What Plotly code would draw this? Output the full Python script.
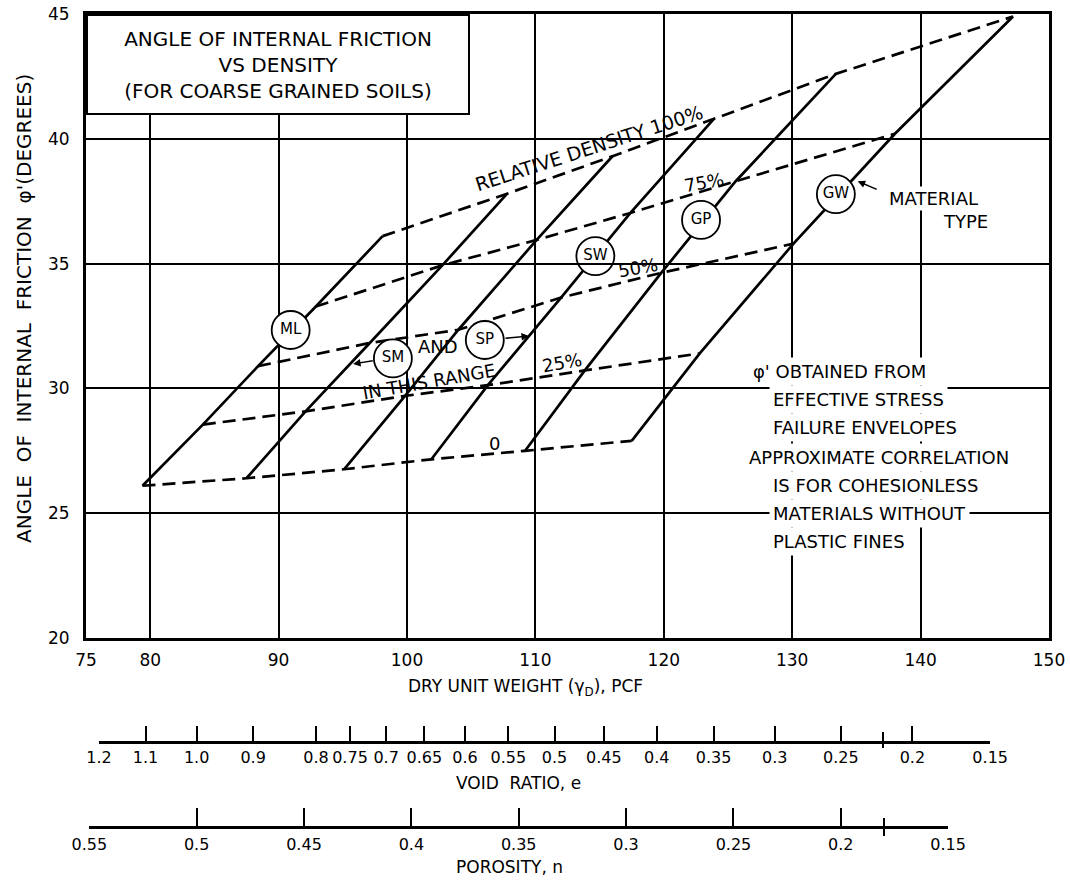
import plotly.graph_objects as go

# ---------------- data ----------------
materials = ["ML", "SM", "SP", "SW", "GP", "GW"]
rd_names = ["0", "25%", "50%", "75%", "100%"]

# intersections of each relative-density curve with the six material lines
rd0_x = [79.4, 87.5, 95.1, 101.9, 109.2, 117.5]
rd0_y = [26.1, 26.4, 26.76, 27.16, 27.5, 27.9]
rd25_x = [84.1, 92.1, 99.85, 106.3, 113.85, 122.8]
rd25_y = [28.55, 29.08, 29.7, 30.13, 30.72, 31.4]
rd50_x = [88.4, 97.1, 104.0, 112.0, 119.8, 130.1]
rd50_y = [30.89, 31.82, 32.35, 33.64, 34.63, 35.8]
rd75_x = [92.9, 102.75, 110.1, 117.4, 125.6, 138.0]
rd75_y = [33.28, 34.93, 35.95, 37.03, 38.3, 40.2]
rd100_x = [98.1, 107.8, 116.0, 123.9, 133.4, 147.2]
rd100_y = [36.1, 37.8, 39.3, 40.8, 42.6, 44.9]

# material-type circles
circle_names = ["ML", "SM", "SP", "SW", "GP", "GW"]
circle_x = [90.94, 98.9, 106.06, 114.67, 122.9, 133.4]
circle_y = [32.34, 31.2, 31.94, 35.3, 36.75, 37.78]

x_ticks = [75, 80, 90, 100, 110, 120, 130, 140, 150]
y_ticks = [20, 25, 30, 35, 40, 45]

void_ticks = [1.2, 1.1, 1.0, 0.9, 0.8, 0.75, 0.7, 0.65, 0.6, 0.55, 0.5, 0.45,
              0.4, 0.35, 0.3, 0.25, 0.2, 0.15]
void_labels = ["1.2", "1.1", "1.0", "0.9", "0.8", "0.75", "0.7", "0.65", "0.6",
               "0.55", "0.5", "0.45", "0.4", "0.35", "0.3", "0.25", "0.2", "0.15"]
void_mark = [0.22]
poro_ticks = [0.55, 0.5, 0.45, 0.4, 0.35, 0.3, 0.25, 0.2, 0.15]
poro_labels = ["0.55", "0.5", "0.45", "0.4", "0.35", "0.3", "0.25", "0.2", "0.15"]
poro_mark = [0.18]

GS = 2.68      # specific gravity used by the scale
GW_UNIT = 62.4  # unit weight of water, pcf

note_lines = ["\u03c6' OBTAINED FROM", "EFFECTIVE STRESS", "FAILURE ENVELOPES",
              "APPROXIMATE CORRELATION", "IS FOR COHESIONLESS",
              "MATERIALS WITHOUT", "PLASTIC FINES"]
note_x = [126.6, 128.2, 128.2, 126.3, 128.2, 128.2, 128.2]
note_y = [30.66, 29.54, 28.42, 27.24, 26.12, 25.0, 23.88]

# ---------------- helpers ----------------
OFF = 0                       # body margin removed by post_script below
W, H = 1070 - OFF, 881 - OFF
ML_, MR, MT, MB = 86 - OFF, 21, 14 - OFF, 54
PH = H - MT - MB
PW = W - ML_ - MR
XMIN, XMAX = 75, 150
FONT = "DejaVu Sans"


def fy(p):
    # page pixel row -> paper fraction
    return (H - MB - (p - OFF)) / PH


def fx(p):
    return ((p - OFF) - ML_) / PW


def g_from_e(e):
    return GS * GW_UNIT / (1 + e)


def g_from_n(n):
    return GS * GW_UNIT * (1 - n)


def dom(g):
    return (g - XMIN) / (XMAX - XMIN)


rd_x = [rd0_x, rd25_x, rd50_x, rd75_x, rd100_x]
rd_y = [rd0_y, rd25_y, rd50_y, rd75_y, rd100_y]

fig = go.Figure()

# relative density curves (dashed)
for k in range(len(rd_x)):
    fig.add_trace(go.Scatter(x=rd_x[k], y=rd_y[k], mode="lines", name=rd_names[k],
                             line=dict(color="black", width=2.7, dash="13px,7px"),
                             showlegend=False, hoverinfo="skip"))

# material lines (solid)
for i in range(len(materials)):
    fig.add_trace(go.Scatter(x=[rd_x[k][i] for k in range(len(rd_x))],
                             y=[rd_y[k][i] for k in range(len(rd_y))],
                             mode="lines", name=materials[i],
                             line=dict(color="black", width=2.7),
                             showlegend=False, hoverinfo="skip"))

# material circles
fig.add_trace(go.Scatter(x=circle_x, y=circle_y, mode="markers+text", text=circle_names,
                         textposition="middle center",
                         textfont=dict(family=FONT, size=15, color="black"),
                         marker=dict(size=38, color="white", line=dict(color="black", width=1.8)),
                         showlegend=False, hoverinfo="skip"))

# void ratio / porosity scales
ev = [g_from_e(v) for v in void_ticks]
nv = [g_from_n(v) for v in poro_ticks]
e_dom = [dom(ev[0]), dom(ev[-1])]
n_dom = [dom(nv[0]), dom(nv[-1])]
for ax in ["x2", "x4"]:
    fig.add_trace(go.Scatter(x=[ev[0], ev[-1]], y=[20, 20], xaxis=ax, yaxis="y",
                             mode="lines", opacity=0, showlegend=False, hoverinfo="skip"))
for ax in ["x3", "x5"]:
    fig.add_trace(go.Scatter(x=[nv[0], nv[-1]], y=[20, 20], xaxis=ax, yaxis="y",
                             mode="lines", opacity=0, showlegend=False, hoverinfo="skip"))

C = dict(xanchor="center", yanchor="middle")
ann = []
# title box
ann.append(dict(text="ANGLE OF INTERNAL FRICTION<br>VS DENSITY<br>(FOR COARSE GRAINED SOILS)",
                xref="paper", yref="paper", x=0, y=1, xanchor="left", yanchor="top",
                showarrow=False, width=380, height=97, align="center", valign="middle",
                bgcolor="white", bordercolor="black", borderwidth=2, borderpad=0,
                font=dict(family=FONT, size=20, color="black")))
# axis titles
ann.append(dict(text="ANGLE  OF  INTERNAL  FRICTION  \u03c6'(DEGREES)", xref="paper", yref="paper",
                x=fx(24), y=fy(309), textangle=-90, showarrow=False, **C,
                font=dict(family=FONT, size=20, color="black")))
ann.append(dict(text="DRY UNIT WEIGHT (\u03b3<sub>D</sub>), PCF", xref="paper", yref="paper",
                x=fx(525), y=fy(687), showarrow=False, **C,
                font=dict(family=FONT, size=17, color="black")))
ann.append(dict(text="VOID  RATIO, e", xref="paper", yref="paper",
                x=fx(518), y=fy(783), showarrow=False, **C,
                font=dict(family=FONT, size=17, color="black")))
ann.append(dict(text="POROSITY, n", xref="paper", yref="paper",
                x=fx(509), y=fy(867), showarrow=False, **C,
                font=dict(family=FONT, size=17, color="black")))

# curve labels
lab = dict(showarrow=False, xref="x", yref="y", font=dict(family=FONT, size=18, color="black"), **C)
ann.append(dict(text="RELATIVE DENSITY 100%", x=114.2, y=39.62, textangle=-18,
                showarrow=False, xref="x", yref="y", xanchor="center", yanchor="middle",
                font=dict(family=FONT, size=19, color="black")))
ann.append(dict(text="75%", x=123.1, y=38.26, textangle=-10, **lab))
ann.append(dict(text="50%", x=118.0, y=34.84, textangle=-10, **lab))
ann.append(dict(text="25%", x=112.1, y=31.05, textangle=-10, **lab))
ann.append(dict(text="0", x=106.8, y=27.8, **lab))
ann.append(dict(text="AND", x=102.4, y=31.67, **lab))
ann.append(dict(text="IN THIS RANGE", x=101.7, y=30.27, textangle=-10, **lab))

# material type label
ann.append(dict(text="MATERIAL", x=141.0, y=37.59, bgcolor="white", borderpad=1, **lab))
ann.append(dict(text="TYPE", x=143.5, y=36.7, bgcolor="white", borderpad=1, **lab))

# arrows
arr = dict(text="", showarrow=True, arrowhead=2, arrowsize=1, arrowwidth=1.5,
           arrowcolor="black", xref="x", yref="y", axref="x", ayref="y")
ann.append(dict(x=95.8, y=30.98, ax=97.45, ay=31.12, **arr))
ann.append(dict(x=109.5, y=32.1, ax=107.55, ay=32.0, **arr))
ann.append(dict(x=135.1, y=38.3, ax=136.7, ay=37.95, **arr))

# note text
for t, x, y in zip(note_lines, note_x, note_y):
    ann.append(dict(text=t, x=x, y=y, xanchor="left", yanchor="middle", showarrow=False,
                    xref="x", yref="y", bgcolor="white", borderpad=3,
                    font=dict(family=FONT, size=18, color="black")))

axis_common = dict(showline=True, linecolor="black", zeroline=False, color="black",
                   automargin=False, ticklabeloverflow="allow")

fig.update_layout(
    width=W, height=H,
    margin=dict(l=ML_, r=MR, t=MT, b=MB, autoexpand=False),
    paper_bgcolor="white", plot_bgcolor="rgba(0,0,0,0)",
    font=dict(family=FONT, color="black"),
    showlegend=False,
    hovermode=False,
    annotations=ann,
    xaxis=dict(domain=[0, 1], range=[XMIN, XMAX], anchor="y", tickmode="array",
               tickvals=x_ticks, ticktext=[str(v) for v in x_ticks],
               showgrid=True, gridcolor="black", gridwidth=1.7, linewidth=2.8, mirror=True,
               ticks="", ticklabelstandoff=5, tickfont=dict(size=17), **axis_common),
    yaxis=dict(domain=[fy(638), 1], range=[20, 45], anchor="x", tickmode="array",
               tickvals=y_ticks, ticktext=[str(v) for v in y_ticks],
               showgrid=True, gridcolor="black", gridwidth=1.7, linewidth=2.8, mirror=True,
               ticks="", ticklabelstandoff=10, tickfont=dict(size=17),
               **axis_common),
    xaxis2=dict(domain=e_dom, range=[ev[0], ev[-1]], anchor="free", position=fy(742),
                tickmode="array", tickvals=ev, ticktext=void_labels,
                ticks="inside", ticklen=15, tickwidth=1.6, tickcolor="black",
                linewidth=2.6, showgrid=False, ticklabelstandoff=0, tickfont=dict(size=16),
                minor=dict(tickmode="array", tickvals=[g_from_e(v) for v in void_mark],
                           ticks="inside", ticklen=9, tickwidth=1.6, tickcolor="black", showgrid=False),
                **axis_common),
    xaxis4=dict(domain=e_dom, range=[ev[0], ev[-1]], anchor="free", position=fy(742),
                tickmode="array", tickvals=[g_from_e(v) for v in void_mark],
                ticks="outside", ticklen=5, tickwidth=1.6, tickcolor="black",
                showticklabels=False, showline=False, showgrid=False, zeroline=False,
                automargin=False),
    xaxis3=dict(domain=n_dom, range=[nv[0], nv[-1]], anchor="free", position=fy(827),
                tickmode="array", tickvals=nv, ticktext=poro_labels,
                ticks="inside", ticklen=18, tickwidth=1.6, tickcolor="black",
                linewidth=2.6, showgrid=False, ticklabelstandoff=2, tickfont=dict(size=16),
                minor=dict(tickmode="array", tickvals=[g_from_n(v) for v in poro_mark],
                           ticks="inside", ticklen=8, tickwidth=1.6, tickcolor="black", showgrid=False),
                **axis_common),
    xaxis5=dict(domain=n_dom, range=[nv[0], nv[-1]], anchor="free", position=fy(827),
                tickmode="array", tickvals=[g_from_n(v) for v in poro_mark],
                ticks="outside", ticklen=8, tickwidth=1.6, tickcolor="black",
                showticklabels=False, showline=False, showgrid=False, zeroline=False,
                automargin=False),
)

fig.write_html("out.html", config={"displayModeBar": False},
               post_script="document.body.style.margin='0';document.body.style.overflow='hidden';")
